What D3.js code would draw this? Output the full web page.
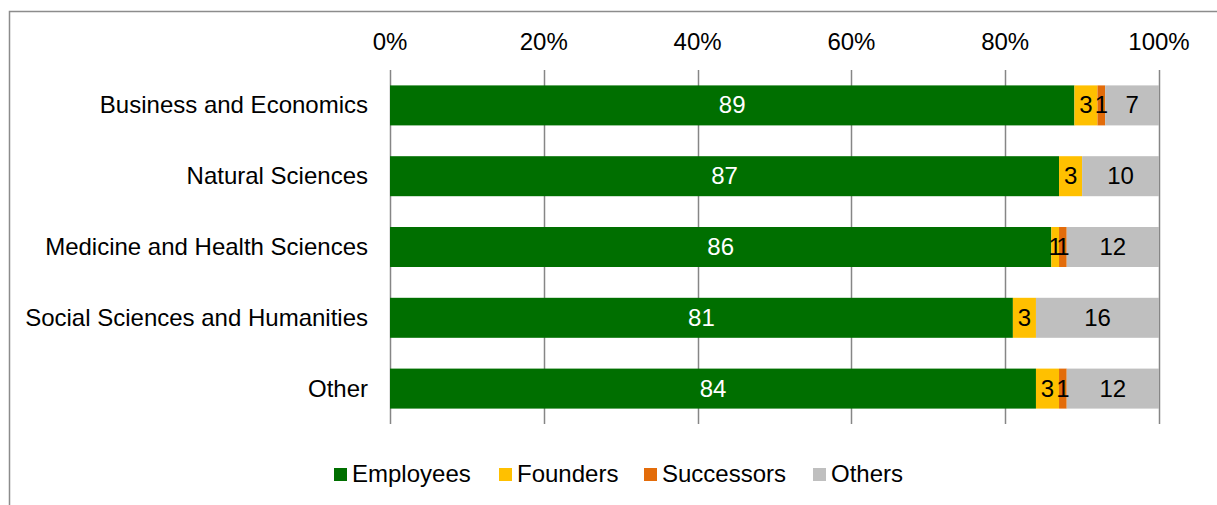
<!DOCTYPE html>
<html>
<head>
<meta charset="utf-8">
<script src="https://cdn.jsdelivr.net/npm/d3@7"></script>
<style>
  body { margin: 0; background: #fff; }
  svg text { font-family: "Liberation Sans", Arial, sans-serif; }
</style>
</head>
<body>
<svg id="chart" width="1217" height="505"></svg>
<script>
var categories = ["Business and Economics", "Natural Sciences", "Medicine and Health Sciences", "Social Sciences and Humanities", "Other"];
var series = ["Employees", "Founders", "Successors", "Others"];
var employees = [89, 87, 86, 81, 84];
var founders = [3, 3, 1, 3, 3];
var successors = [1, 0, 1, 0, 1];
var others = [7, 10, 12, 16, 12];
var tickValues = [0, 20, 40, 60, 80, 100];

var colors = ["#006f00", "#ffc000", "#e36c0a", "#bfbfbf"];
var labelColors = ["#ffffff", "#000000", "#000000", "#000000"];
var fontSize = 24;

var svg = d3.select("#chart");

// chart frame
svg.append("rect")
    .attr("x", 9.5).attr("y", 11.5)
    .attr("width", 1230).attr("height", 520)
    .attr("fill", "none")
    .attr("stroke", "#8c8c8c")
    .attr("stroke-width", 1.5);

var rows = categories.map(function(c, i) {
    return { cat: c, Employees: employees[i], Founders: founders[i], Successors: successors[i], Others: others[i] };
});

var stacked = d3.stack().keys(series)(rows);

var x = d3.scaleLinear().domain([0, 100]).range([390, 1159]);
var y = d3.scaleBand().domain(categories).range([70, 424]).paddingInner(0.435).paddingOuter(0.2175);

// gridlines
svg.append("g")
    .selectAll("line")
    .data(tickValues)
    .enter().append("line")
    .attr("x1", function(d) { return Math.round(x(d)) + 0.5; })
    .attr("x2", function(d) { return Math.round(x(d)) + 0.5; })
    .attr("y1", 70).attr("y2", 424)
    .attr("stroke", "#868686")
    .attr("stroke-width", 1.5);

// tick labels on top
svg.append("g")
    .selectAll("text")
    .data(tickValues)
    .enter().append("text")
    .attr("x", function(d) { return x(d); })
    .attr("y", 50)
    .attr("text-anchor", "middle")
    .attr("font-size", fontSize)
    .attr("fill", "#000")
    .text(function(d) { return d + "%"; });

// bars
var layer = svg.append("g")
    .selectAll("g")
    .data(stacked)
    .enter().append("g")
    .attr("fill", function(d, i) { return colors[i]; });

layer.selectAll("rect")
    .data(function(d) { return d; })
    .enter().append("rect")
    .attr("x", function(d) { return x(d[0]); })
    .attr("y", function(d) { return y(d.data.cat); })
    .attr("width", function(d) { return x(d[1]) - x(d[0]); })
    .attr("height", y.bandwidth());

// value labels
stacked.forEach(function(s, i) {
    svg.append("g")
        .selectAll("text")
        .data(s.filter(function(d) { return d[1] - d[0] > 0; }))
        .enter().append("text")
        .attr("x", function(d) { return (x(d[0]) + x(d[1])) / 2; })
        .attr("y", function(d) { return y(d.data.cat) + y.bandwidth() / 2 + 8; })
        .attr("text-anchor", "middle")
        .attr("font-size", fontSize)
        .attr("fill", labelColors[i])
        .text(function(d) { return d[1] - d[0]; });
});

// category labels
svg.append("g")
    .selectAll("text")
    .data(categories)
    .enter().append("text")
    .attr("x", 368)
    .attr("y", function(d) { return y(d) + y.bandwidth() / 2 + 8; })
    .attr("text-anchor", "end")
    .attr("font-size", fontSize)
    .attr("fill", "#000")
    .text(function(d) { return d; });

// legend
var legendX = [334, 499, 644, 813];
var legend = svg.append("g")
    .selectAll("g")
    .data(series)
    .enter().append("g")
    .attr("transform", function(d, i) { return "translate(" + legendX[i] + ",468)"; });

legend.append("rect")
    .attr("width", 13).attr("height", 13)
    .attr("fill", function(d, i) { return colors[i]; });

legend.append("text")
    .attr("x", 18)
    .attr("y", 14)
    .attr("font-size", fontSize)
    .attr("fill", "#000")
    .text(function(d) { return d; });
</script>
</body>
</html>
